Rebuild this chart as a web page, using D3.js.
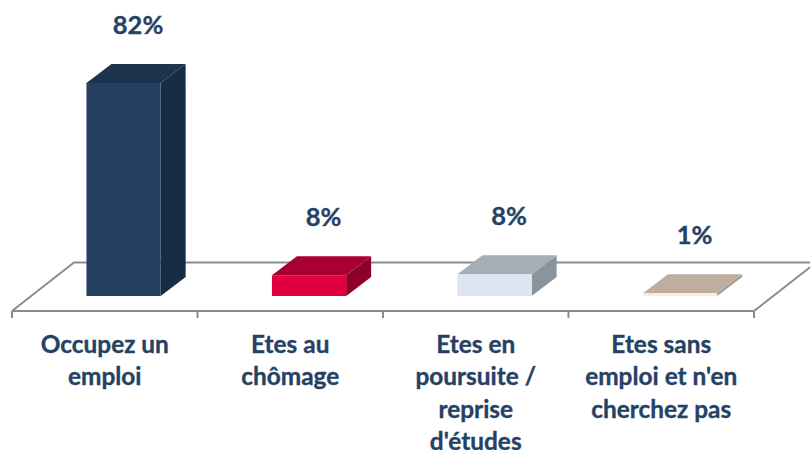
<!DOCTYPE html>
<html><head><meta charset="utf-8">
<script src="https://cdnjs.cloudflare.com/ajax/libs/d3/7.9.0/d3.min.js"></script>
<style>html,body{margin:0;padding:0;background:#fff;overflow:hidden}svg{display:block}
text{font-family:Lato,sans-serif;font-weight:700;fill:#254264;stroke:#254264;stroke-width:0.35px}</style></head><body>
<svg id="c" width="810" height="450"></svg>
<script>
const categories = ["Occupez un emploi","Etes au chômage","Etes en poursuite / reprise d'études","Etes sans emploi et n'en cherchez pas"];
const categoryLines = [["Occupez un","emploi"],["Etes au","chômage"],["Etes en","poursuite /","reprise","d'études"],["Etes sans","emploi et n'en","cherchez pas"]];
const values = [82, 8, 8.4, 1.1];
const valueLabels = ["82%","8%","8%","1%"];
const frontColors = ["#254061","#e0003f","#dce6f2","#fdeada"];
const topColors = ["#1d334e","#a80032","#a5aeb6","#bdaea0"];
const sideColors = ["#172c45","#8c002a","#8b949c","#a9998b"];

const svg = d3.select("#c");
const y = d3.scaleLinear().domain([0,82]).range([296,83]);
const band = d3.scaleBand().domain(categories).range([12,754]);
const floorY = 311, backY = 262.5, floorDX = 62;
const barShift = 18.8, dx = 25, dy = -19;

const grey = "#8c8c8c";
const floor = svg.append("g").attr("fill","none").attr("stroke",grey).attr("stroke-width",2);
floor.append("path").attr("d",d3.line()([[12,floorY],[12+floorDX,backY],[754+floorDX,backY],[754,floorY],[12,floorY]]));
const tickPos = [12,...categories.map(c=>band(c)+band.step())];
floor.selectAll("line").data(tickPos).join("line")
  .attr("x1",d=>d).attr("x2",d=>d).attr("y1",floorY).attr("y2",318);

const line = d3.line();
const bars = svg.selectAll("g.bar").data(categories).join("g").attr("class","bar");
bars.each(function(c,i){
  const g = d3.select(this);
  const w = band.step()*0.4;
  const x0 = band(c)+band.step()/2-w/2+barShift, x1 = x0+w, yt = y(values[i]), yb = y(0);
  g.append("path").attr("fill",sideColors[i]).attr("d",line([[x1,yt],[x1+dx,yt+dy],[x1+dx,yb+dy],[x1,yb]])+"Z");
  g.append("path").attr("fill",topColors[i]).attr("d",line([[x0,yt],[x0+dx,yt+dy],[x1+dx,yt+dy],[x1,yt]])+"Z");
  g.append("rect").attr("fill",frontColors[i]).attr("x",x0).attr("y",yt).attr("width",w).attr("height",yb-yt);
  g.append("text").attr("x",(x0+x1)/2+14.5).attr("y",yt-49.5).attr("text-anchor","middle")
    .attr("font-size",25.5).text(valueLabels[i]);
});
categories.forEach((c,i)=>{
  const t = svg.append("text").attr("text-anchor","middle").attr("font-size",24.4);
  categoryLines[i].forEach((l,k)=>t.append("tspan").attr("x",band(c)+band.step()/2).attr("y",353+k*32.4).text(l));
});
</script></body></html>
